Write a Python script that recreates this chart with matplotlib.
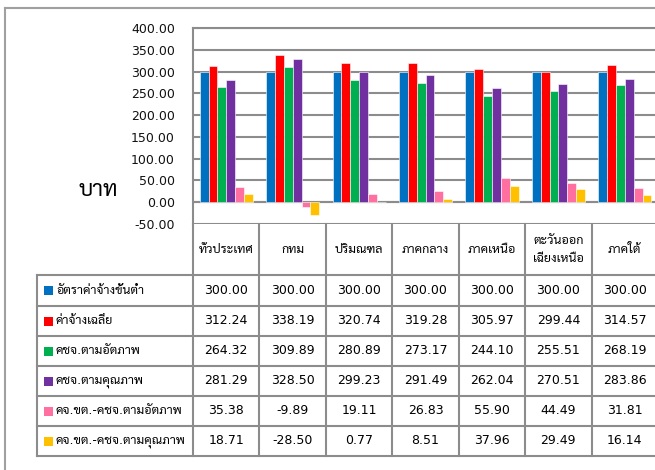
import numpy as np
import matplotlib
matplotlib.use("Agg")
import matplotlib.pyplot as plt
from matplotlib import font_manager
from matplotlib.lines import Line2D
from matplotlib.patches import Rectangle

# pick a Thai-capable font for the fallback
available = {f.name for f in font_manager.fontManager.ttflist}
thai_font = "DejaVu Sans"
for name in ["Sarabun", "Noto Sans Thai Looped", "Noto Sans Thai", "Athiti", "Anuphan", "Bai Jamjuree"]:
    if name in available:
        thai_font = name
        break
plt.rcParams["font.family"] = ["DejaVu Sans", thai_font]

# =========================
# Data
# =========================

regions = ["ทั่วประเทศ", "กทม", "ปริมณฑล", "ภาคกลาง", "ภาคเหนือ", "ตะวันออก\nเฉียงเหนือ", "ภาคใต้"]
series_names = [
    "อัตราค่าจ้างขั้นต่ำ",
    "ค่าจ้างเฉลี่ย",
    "คชจ.ตามอัตภาพ",
    "คชจ.ตามคุณภาพ",
    "คจ.ขต.-คชจ.ตามอัตภาพ",
    "คจ.ขต.-คชจ.ตามคุณภาพ",
]
min_wage = [300.00, 300.00, 300.00, 300.00, 300.00, 300.00, 300.00]
avg_wage = [312.24, 338.19, 320.74, 319.28, 305.97, 299.44, 314.57]
cost_basic = [264.32, 309.89, 280.89, 273.17, 244.10, 255.51, 268.19]
cost_quality = [281.29, 328.50, 299.23, 291.49, 262.04, 270.51, 283.86]
diff_basic = [35.38, -9.89, 19.11, 26.83, 55.90, 44.49, 31.81]
diff_quality = [18.71, -28.50, 0.77, 8.51, 37.96, 29.49, 16.14]
series = [min_wage, avg_wage, cost_basic, cost_quality, diff_basic, diff_quality]
colors = ["#0070C0", "#FF0000", "#00B050", "#7030A0", "#FF6FA0", "#FFC000"]

yticks = np.arange(-50, 401, 50)

# =========================
# Layout (pixels)
# =========================
W, H = 655, 470
GRID = "#8c8c8c"
X0, X1 = 193, 658          # plot / table columns
YTOP, YBOT = 28, 224       # 400 and -50 lines
ROWS = [275, 306, 336, 366, 396, 426, 456]
LAB_X = 37


def fx(x):
    return x / W


def fy(y):
    return 1 - y / H


fig = plt.figure(figsize=(W / 100, H / 100), dpi=100)

# outer frame
fig.add_artist(Line2D([fx(5), fx(5)], [fy(8), fy(470)], color="#a0a0a0", lw=1.5))
fig.add_artist(Line2D([fx(5), fx(660)], [fy(8), fy(8)], color="#a0a0a0", lw=1.5))

ax = fig.add_axes([fx(X0), fy(YBOT), fx(X1) - fx(X0), fy(YTOP) - fy(YBOT)])
n = len(regions)
x = np.arange(n)
bw = 1 / 7.5
for i, (vals, c) in enumerate(zip(series, colors)):
    ax.bar(x + (i - 2.5) * bw, vals, width=bw, color=c, edgecolor="white",
           linewidth=0.4, zorder=3)

ax.set_xlim(-0.5, n - 0.5)
ax.set_ylim(-50, 400)
ax.set_yticks(yticks)
ax.set_yticklabels([f"{v:.2f}" for v in yticks], fontsize=9, color="#111111")
ax.tick_params(axis="y", length=0, pad=13)
ax.set_xticks([])
ax.grid(axis="y", color=GRID, lw=1.5, zorder=0)
for s in ["right", "bottom"]:
    ax.spines[s].set_visible(False)
ax.spines["left"].set_color(GRID)
ax.spines["left"].set_linewidth(1.5)
ax.spines["top"].set_color(GRID)
ax.spines["top"].set_linewidth(1.5)
ax.axhline(0, color=GRID, lw=1.5, zorder=2)

fig.text(fx(98), fy(190), "บาท", fontsize=16, ha="center", va="center")

# =========================
# Data table
# =========================
col_w = (X1 - X0) / n
line_kw = dict(color=GRID, lw=1.5)

for k in range(n + 1):
    xx = X0 + k * col_w
    fig.add_artist(Line2D([fx(xx), fx(xx)], [fy(YBOT), fy(ROWS[-1])], **line_kw))
fig.add_artist(Line2D([fx(LAB_X), fx(LAB_X)], [fy(ROWS[0]), fy(ROWS[-1])], **line_kw))
for yy in ROWS:
    fig.add_artist(Line2D([fx(LAB_X), fx(X1)], [fy(yy), fy(yy)], **line_kw))

for k, name in enumerate(regions):
    fig.text(fx(X0 + (k + 0.5) * col_w), fy((YBOT + ROWS[0]) / 2), name,
             fontsize=9, ha="center", va="center", linespacing=1.5)

for r, (name, vals, c) in enumerate(zip(series_names, series, colors)):
    yc = (ROWS[r] + ROWS[r + 1]) / 2
    fig.add_artist(Rectangle((fx(44), fy(yc + 4.5)), fx(9), fy(0) - fy(9),
                             facecolor=c, edgecolor="none"))
    fig.text(fx(56), fy(yc), name, fontsize=9, ha="left", va="center")
    for k, v in enumerate(vals):
        fig.text(fx(X0 + (k + 0.5) * col_w), fy(yc), f"{v:.2f}",
                 fontsize=9, ha="center", va="center")

fig.savefig("out.png", dpi=100)
